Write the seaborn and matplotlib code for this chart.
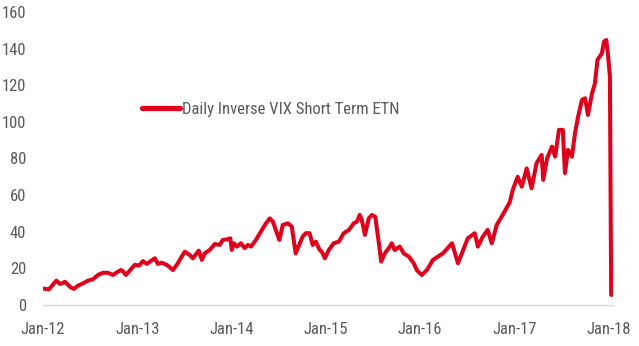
import matplotlib
matplotlib.use("Agg")
import matplotlib.pyplot as plt
import matplotlib.dates as mdates
import pandas as pd
import seaborn as sns

series_name = "Daily Inverse VIX Short Term ETN"

dates = [
    "2012-01-03", "2012-01-13", "2012-01-25", "2012-02-09", "2012-02-23", "2012-03-08",
    "2012-03-19", "2012-03-27", "2012-04-08", "2012-04-19", "2012-05-01", "2012-05-16",
    "2012-06-05", "2012-06-24", "2012-07-13", "2012-08-02", "2012-08-21", "2012-09-09",
    "2012-09-29", "2012-10-18", "2012-10-30", "2012-11-06", "2012-11-18", "2012-12-04",
    "2012-12-23", "2013-01-04", "2013-01-11", "2013-01-23", "2013-02-07", "2013-02-19",
    "2013-03-10", "2013-03-22", "2013-04-06", "2013-04-25", "2013-05-07", "2013-05-19",
    "2013-06-03", "2013-06-22", "2013-07-04", "2013-07-23", "2013-08-04", "2013-08-19",
    "2013-08-27", "2013-09-08", "2013-09-19", "2013-10-08", "2013-10-28", "2013-11-16",
    "2013-11-28", "2013-12-17", "2013-12-27", "2014-01-02", "2014-01-10", "2014-01-22",
    "2014-02-06", "2014-02-21", "2014-03-05", "2014-03-17", "2014-04-05", "2014-04-24",
    "2014-05-14", "2014-05-29", "2014-06-10", "2014-06-21", "2014-07-05", "2014-07-18",
    "2014-08-07", "2014-08-22", "2014-09-06", "2014-09-22", "2014-10-03", "2014-10-15",
    "2014-10-30", "2014-11-11", "2014-11-23", "2014-12-08", "2014-12-16", "2014-12-28",
    "2015-01-12", "2015-01-31", "2015-02-20", "2015-03-11", "2015-03-31", "2015-04-19",
    "2015-05-01", "2015-05-12", "2015-05-20", "2015-06-01", "2015-06-16", "2015-06-28",
    "2015-07-11", "2015-07-25", "2015-08-03", "2015-08-17", "2015-09-01", "2015-09-13",
    "2015-09-24", "2015-10-14", "2015-10-29", "2015-11-18", "2015-12-07", "2015-12-19",
    "2016-01-07", "2016-01-27", "2016-02-19", "2016-03-29", "2016-05-03", "2016-05-26",
    "2016-06-10", "2016-07-03", "2016-07-30", "2016-08-11", "2016-08-30", "2016-09-18",
    "2016-10-04", "2016-10-23", "2016-11-15", "2016-12-12", "2016-12-24", "2017-01-12",
    "2017-01-28", "2017-02-16", "2017-03-07", "2017-03-26", "2017-04-15", "2017-04-21",
    "2017-05-06", "2017-05-25", "2017-06-06", "2017-06-21", "2017-07-06", "2017-07-14",
    "2017-07-26", "2017-08-10", "2017-08-22", "2017-09-03", "2017-09-18", "2017-09-30",
    "2017-10-11", "2017-10-27", "2017-11-07", "2017-11-17", "2017-12-04", "2017-12-12",
    "2017-12-21", "2017-12-27", "2018-01-04", "2018-01-09", "2018-01-16",
]

values = [
    9.0, 8.8, 8.5, 11.0, 13.3, 11.5,
    12.0, 12.7, 11.0, 9.5, 8.8, 10.5,
    11.8, 13.3, 14.0, 16.4, 17.6, 17.6,
    16.4, 18.2, 19.1, 18.5, 16.4, 19.0,
    22.0, 21.5, 21.9, 24.0, 22.4, 23.7,
    25.5, 22.4, 23.1, 21.9, 20.6, 19.1,
    21.9, 26.4, 29.1, 27.3, 25.5, 28.2,
    29.7, 24.6, 28.2, 30.0, 33.3, 32.8,
    35.5, 35.9, 36.4, 30.0, 33.7, 31.9,
    33.7, 31.0, 32.8, 31.9, 35.5, 40.0,
    44.6, 47.3, 45.5, 41.0, 35.5, 43.7,
    44.6, 42.8, 28.2, 33.7, 37.3, 39.2,
    39.2, 32.8, 34.6, 30.0, 29.1, 25.5,
    30.0, 33.7, 34.6, 39.2, 41.0, 44.6,
    45.5, 49.2, 46.4, 38.3, 47.3, 49.2,
    48.2, 33.7, 23.7, 28.2, 31.0, 33.7,
    30.0, 31.9, 28.2, 26.4, 22.8, 19.0,
    16.4, 19.1, 24.6, 28.2, 33.7, 22.8,
    28.2, 36.4, 39.2, 31.9, 37.3, 41.0,
    33.7, 43.7, 49.2, 56.0, 62.8, 70.0,
    64.6, 74.6, 63.7, 77.4, 82.0, 68.3,
    80.1, 86.5, 81.0, 95.6, 95.6, 72.0,
    84.7, 81.0, 93.8, 102.9, 112.0, 112.9,
    103.8, 115.7, 121.0, 133.9, 137.4, 143.8,
    144.7, 137.4, 125.0, 5.5, 5.8,
]

y_ticks = [0, 20, 40, 60, 80, 100, 120, 140, 160]
x_tick_dates = ["2012-01-01", "2013-01-01", "2014-01-01", "2015-01-01",
                "2016-01-01", "2017-01-01", "2018-01-01"]

df = pd.DataFrame({"date": pd.to_datetime(dates), "value": values, "series": series_name})

sns.set_style("white")
plt.rcParams["font.family"] = ["Roboto Condensed", "DejaVu Sans"]

text_color = "#595959"
red = "#E0001B"
fs = 12

fig = plt.figure(figsize=(6.39, 3.46), dpi=100)
ax = fig.add_axes([42.7 / 639, 1 - 305 / 346, (613 - 42.7) / 639, (305 - 12) / 346])

sns.lineplot(data=df, x="date", y="value", hue="series", palette=[red],
             linewidth=2.9, ax=ax, legend=True)

ax.set_xlim(pd.Timestamp("2012-01-01"), pd.Timestamp("2018-01-16"))
ax.set_ylim(0, 160)
ax.set_yticks(y_ticks)
ax.set_xticks(pd.to_datetime(x_tick_dates))
ax.xaxis.set_major_formatter(mdates.DateFormatter("%b-%y"))
ax.set_xlabel("")
ax.set_ylabel("")

for s in ["top", "right", "left"]:
    ax.spines[s].set_visible(False)
ax.spines["bottom"].set_color("#d9d9d9")
ax.spines["bottom"].set_linewidth(1.0)

ax.tick_params(axis="x", colors="#d9d9d9", length=5, width=1, direction="out",
               labelcolor=text_color, labelsize=fs, pad=7)
ax.tick_params(axis="y", length=0, labelcolor=text_color, labelsize=fs, pad=12)

leg = ax.legend(loc="center left", bbox_to_anchor=(141.7 / 639, 1 - 109.3 / 346),
                bbox_transform=fig.transFigure, frameon=False, fontsize=fs,
                handlelength=2.3, handletextpad=0.1, borderpad=0, borderaxespad=0)
for t in leg.get_texts():
    t.set_color(text_color)
for h in leg.get_lines():
    h.set_linewidth(3.8)

fig.savefig("out.png", dpi=100)
